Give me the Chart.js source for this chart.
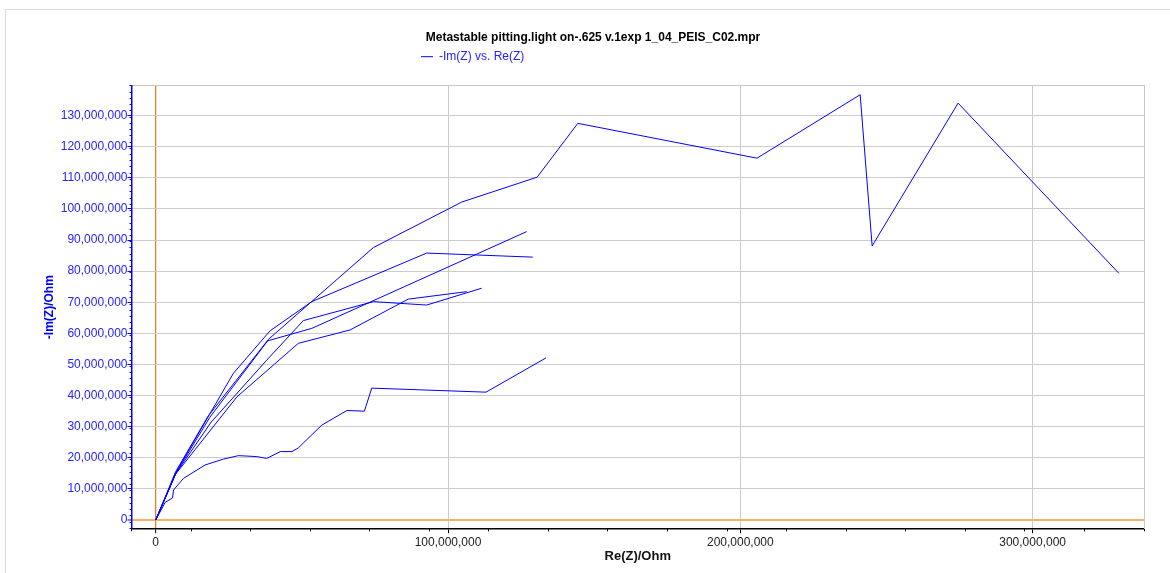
<!DOCTYPE html>
<html><head><meta charset="utf-8">
<script src="https://cdn.jsdelivr.net/npm/chart.js@4"></script>
<style>
html,body{margin:0;padding:0;background:#fff;overflow:hidden;}
#frame{position:absolute;left:5px;top:9px;width:1200px;height:600px;border:1px solid #dadada;}
#wrap{position:absolute;left:0;top:0;width:1170px;height:573px;}
</style></head><body>
<div id="frame"></div>
<div id="wrap"><canvas id="c" width="1170" height="573"></canvas></div>
<script>
const chartTitle = 'Metastable pitting.light on-.625 v.1exp 1_04_PEIS_C02.mpr';
const seriesLabel = '-Im(Z) vs. Re(Z)';
const xAxisTitle = 'Re(Z)/Ohm';
const yAxisTitle = '-Im(Z)/Ohm';

const xTickValues = [0, 100000000, 200000000, 300000000];
const yTickValues = [0, 10000000, 20000000, 30000000, 40000000, 50000000, 60000000,
  70000000, 80000000, 90000000, 100000000, 110000000, 120000000, 130000000];
const xRange = [-8280000, 338100000];
const yRange = [-2650000, 139500000];

// Re(Z) / -Im(Z) in Ohm, one pair per sweep
const c1Re = [0, 3250000, 5750000, 6100000, 9500000, 16900000, 23200000, 28300000, 34600000, 38000000, 42600000, 46600000, 48800000, 56800000, 65400000, 71400000, 73900000, 113000000, 133500000];
const c1Im = [0, 5700000, 7070000, 9650000, 13400000, 17700000, 19600000, 20700000, 20400000, 19800000, 22000000, 22000000, 23200000, 30500000, 35200000, 35000000, 42400000, 41100000, 52100000];

const c2Re = [0, 6800000, 18000000, 38600000, 74500000, 104700000, 130500000, 144400000, 205700000, 241000000, 245100000, 274500000, 329500000];
const c2Im = [0, 15500000, 33500000, 58100000, 87600000, 102200000, 110200000, 127500000, 116300000, 136700000, 88100000, 134000000, 79300000];

const c3Re = [0, 7000000, 18500000, 38300000, 53400000, 126900000];
const c3Im = [0, 15200000, 33000000, 57600000, 61600000, 92700000];

const c4Re = [0, 7200000, 26600000, 39100000, 53400000, 92700000, 129000000];
const c4Im = [0, 15800000, 47200000, 60800000, 70200000, 85800000, 84500000];

const c5Re = [0, 6900000, 19000000, 38000000, 50500000, 74500000, 92700000, 111500000];
const c5Im = [0, 15000000, 31500000, 51400000, 64100000, 70200000, 69100000, 74500000];

const c6Re = [0, 6600000, 27800000, 48800000, 66500000, 86400000, 106400000];
const c6Im = [0, 14500000, 39600000, 56800000, 61100000, 71000000, 73400000];

const sweeps = [[c1Re, c1Im], [c2Re, c2Im], [c3Re, c3Im], [c4Re, c4Im], [c5Re, c5Im], [c6Re, c6Im]];

const BLUE = '#0000ff';
const fmt = v => Number(v).toLocaleString('en-US');
Chart.defaults.font.family = "'Liberation Sans', Arial, sans-serif";

const datasets = sweeps.map(([re, im]) => ({
  label: seriesLabel,
  data: re.map((x, i) => ({x: x, y: im[i]})),
  showLine: true,
  borderColor: BLUE,
  backgroundColor: BLUE,
  borderWidth: 1,
  pointRadius: 0,
  pointHoverRadius: 0,
  tension: 0,
  fill: false
}));

const placePlugin = {
  id: 'place',
  afterLayout(chart) {
    const t = chart.titleBlock;
    if (t) { const d = 593 - (t.left + t.right) / 2; t.left += d; t.right += d; }
    const l = chart.legend;
    if (l) { l.left = 421 - l.options.labels.padding; }
  }
};

new Chart(document.getElementById('c'), {
  type: 'scatter',
  data: {datasets},
  plugins: [placePlugin],
  options: {
    responsive: false,
    animation: false,
    events: [],
    layout: {padding: {left: 0, right: 26, top: 0, bottom: 0}},
    plugins: {
      tooltip: {enabled: false},
      title: {
        display: true, text: chartTitle, color: '#000',
        font: {size: 12, weight: 'bold'},
        padding: {top: 30.5, bottom: 1.8}
      },
      legend: {
        display: true, align: 'start',
        labels: {
          filter: item => item.datasetIndex === 0,
          color: '#2424ff', font: {size: 12},
          usePointStyle: true, pointStyle: 'line', pointStyleWidth: 12,
          padding: 4
        }
      }
    },
    scales: {
      x: {
        type: 'linear', position: 'bottom', weight: 1,
        min: xRange[0], max: xRange[1],
        afterBuildTicks: s => { s.ticks = xTickValues.map(v => ({value: v})); },
        afterFit: s => { s.height = 44.7; },
        ticks: {color: '#222', font: {size: 12}, padding: 2, callback: fmt, autoSkip: false, maxRotation: 0},
        grid: {
          color: c => c.tick && c.tick.value === 0 ? '#e8801e' : '#cccccc',
          lineWidth: c => c.tick && c.tick.value === 0 ? 1.3 : 1,
          tickColor: '#000', tickLength: 5, tickWidth: 1
        },
        border: {display: true, color: '#000', width: 1.5},
        title: {display: true, text: xAxisTitle, color: '#111', font: {size: 13, weight: 'bold'}, padding: {top: 0, bottom: 8.5}}
      },
      xMinor: {
        type: 'linear', position: 'bottom', weight: 0,
        min: xRange[0], max: xRange[1],
        afterFit: s => { s.height = 0; },
        ticks: {display: false, stepSize: 20000000, includeBounds: false},
        grid: {drawOnChartArea: false, drawTicks: true, tickLength: 3, tickColor: '#000', tickWidth: 1},
        border: {display: false}
      },
      xTop: {
        type: 'linear', position: 'top', weight: 0,
        min: xRange[0], max: xRange[1],
        afterFit: s => { s.height = 13.3; },
        ticks: {display: false},
        grid: {display: false, drawTicks: false},
        border: {display: true, color: '#c8c8c8', width: 1}
      },
      y: {
        type: 'linear', position: 'left', weight: 1,
        min: yRange[0], max: yRange[1],
        afterBuildTicks: s => { s.ticks = yTickValues.map(v => ({value: v})); },
        afterFit: s => { s.width = 131.5; },
        ticks: {color: '#2424ff', font: {size: 12}, padding: 0, callback: fmt, autoSkip: false},
        grid: {
          color: c => c.tick && c.tick.value === 0 ? '#f7b26a' : '#cccccc',
          lineWidth: c => c.tick && c.tick.value === 0 ? 2 : 1,
          tickColor: BLUE, tickLength: 4, tickWidth: 1
        },
        border: {display: true, color: BLUE, width: 1.5},
        title: {display: true, text: yAxisTitle, color: BLUE, font: {size: 12, weight: 'bold'}, padding: {top: 42.1, bottom: 0}}
      },
      yMinor: {
        type: 'linear', position: 'left', weight: 0,
        min: yRange[0], max: yRange[1],
        afterFit: s => { s.width = 0; },
        ticks: {display: false, stepSize: 2000000, includeBounds: false},
        grid: {drawOnChartArea: false, drawTicks: true, tickLength: 2, tickColor: BLUE, tickWidth: 1},
        border: {display: false}
      },
      yRight: {
        type: 'linear', position: 'right', weight: 0,
        min: yRange[0], max: yRange[1],
        afterFit: s => { s.width = 0; },
        ticks: {display: false},
        grid: {display: false, drawTicks: false},
        border: {display: true, color: '#c8c8c8', width: 1}
      }
    }
  }
});
</script>
</body></html>
